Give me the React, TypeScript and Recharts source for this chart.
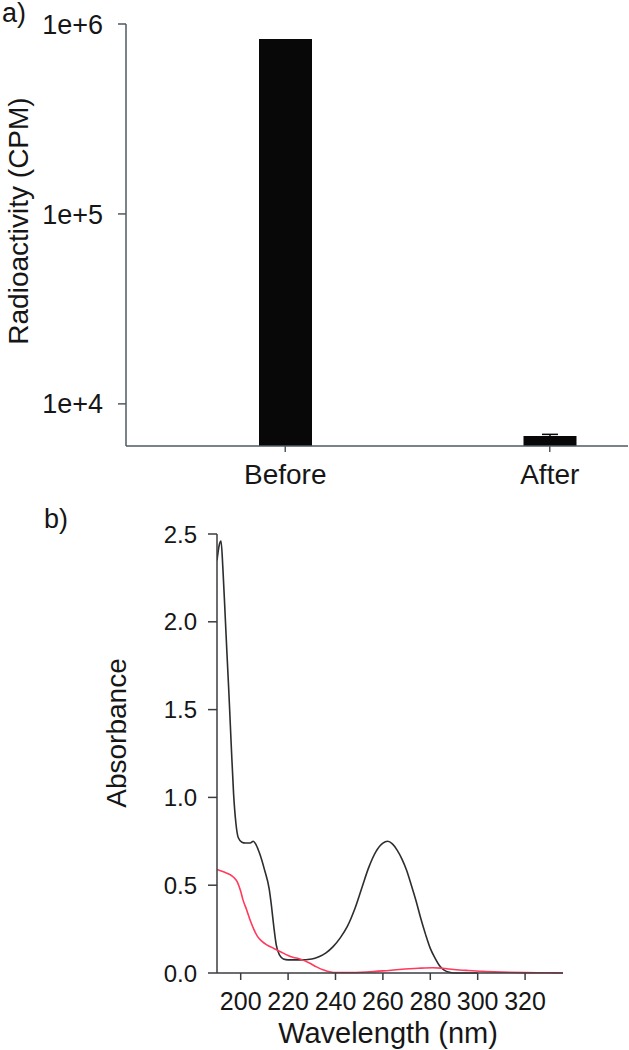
import React from 'react';
import {
  BarChart, Bar, XAxis, YAxis, ErrorBar, LineChart, Line, Label,
} from 'recharts';

const categories = ['Before', 'After'];
const radioactivity = [834000, 6780];
const radioactivityErr = [0, 130];
const logTicks = [10000, 100000, 1000000];
const logTickLabels = ['1e+4', '1e+5', '1e+6'];

const blackNm = [190, 191, 191.7, 192.5, 193.5, 194.2, 195, 196, 197, 198, 199, 200.5, 202, 204, 205.3, 206.5, 208, 210, 212, 213, 214, 215, 216.5, 218, 220, 225, 230, 233, 236, 239, 242, 245, 248, 251, 254, 257, 260, 262, 264, 266, 268, 270, 272, 274, 276, 278, 280, 282, 284, 286, 288, 290, 300];
const blackAbs = [2.35, 2.44, 2.46, 2.3, 2.02, 1.82, 1.6, 1.3, 1.02, 0.85, 0.77, 0.745, 0.74, 0.74, 0.75, 0.73, 0.68, 0.59, 0.48, 0.38, 0.26, 0.16, 0.1, 0.08, 0.075, 0.075, 0.08, 0.093, 0.115, 0.15, 0.2, 0.265, 0.36, 0.48, 0.6, 0.69, 0.74, 0.75, 0.735, 0.7, 0.65, 0.585, 0.5, 0.41, 0.31, 0.22, 0.14, 0.085, 0.04, 0.015, 0.004, 0, 0];

const redNm = [190, 193, 195.5, 197, 198.5, 200, 201, 202.5, 204, 205.5, 207, 209, 211, 214, 217, 220, 222, 225, 229, 232, 235, 238, 240, 245, 253, 260, 267, 275, 281, 285, 290, 296, 302, 310, 320, 330, 336];
const redAbs = [0.59, 0.575, 0.56, 0.545, 0.52, 0.465, 0.415, 0.36, 0.3, 0.25, 0.21, 0.18, 0.16, 0.14, 0.12, 0.1, 0.09, 0.08, 0.057, 0.035, 0.017, 0.006, 0.003, 0.003, 0.006, 0.012, 0.02, 0.027, 0.03, 0.027, 0.02, 0.014, 0.009, 0.005, 0.002, 0.001, 0];

const absTicks = [0, 0.5, 1, 1.5, 2, 2.5];
const nmTicks = [200, 220, 240, 260, 280, 300, 320];

const barData = categories.map((c, i) => ({ name: c, cpm: radioactivity[i], err: radioactivityErr[i] }));
const blackData = blackNm.map((x, i) => ({ nm: x, abs: blackAbs[i] }));
const redData = redNm.map((x, i) => ({ nm: x, abs: redAbs[i] }));

const FONT = '"Liberation Sans", Arial, Helvetica, sans-serif';
const TEXT = '#161616';

export default function App() {
  return (
    <div style={{ position: 'absolute', left: 0, top: 0, width: 629, height: 1050, background: '#fff', fontFamily: FONT }}>
      <div style={{ position: 'absolute', left: 2, top: 0, fontSize: 27, lineHeight: 1, color: TEXT }}>a)</div>
      <div style={{ position: 'absolute', left: 44, top: 506, fontSize: 27, lineHeight: 1, color: TEXT }}>b)</div>

      <div style={{ position: 'absolute', left: 0, top: 0 }}>
        <BarChart width={629} height={500} data={barData} margin={{ top: 24, right: 1, left: 0, bottom: 0 }}>
          <XAxis
            dataKey="name"
            height={54}
            padding={{ left: 27, right: -54 }}
            tickSize={6}
            tickMargin={12}
            stroke="#4f5a62"
            strokeWidth={1.5}
            tick={{ fontSize: 28, fill: TEXT, fontFamily: FONT }}
          />
          <YAxis
            scale="log"
            domain={[6000, 1000000]}
            allowDataOverflow
            ticks={logTicks}
            tickFormatter={(v: number) => logTickLabels[logTicks.indexOf(v)] ?? ''}
            width={126}
            tickSize={8}
            tickMargin={15}
            stroke="#4f5a62"
            strokeWidth={1.5}
            tick={{ fontSize: 27, fill: TEXT, fontFamily: FONT }}
          >
            <Label
              content={() => (
                <text x={18} y={221} transform="rotate(-90 18 221)" textAnchor="middle" dominantBaseline="central"
                  style={{ fontSize: 28, fill: TEXT, fontFamily: FONT }}>
                  Radioactivity (CPM)
                </text>
              )}
            />
          </YAxis>
          <Bar dataKey="cpm" fill="#080808" barSize={53} isAnimationActive={false}>
            <ErrorBar dataKey="err" width={8} stroke="#080808" strokeWidth={1.5} />
          </Bar>
        </BarChart>
      </div>

      <div style={{ position: 'absolute', left: 0, top: 500 }}>
        <LineChart width={629} height={550} margin={{ top: 34, right: 66, left: 0, bottom: 0 }}>
          <XAxis
            type="number"
            dataKey="nm"
            domain={[190, 336]}
            allowDataOverflow
            ticks={nmTicks}
            height={77}
            tickSize={7}
            tickMargin={12}
            stroke="#3a3d40"
            strokeWidth={1.5}
            tick={{ fontSize: 25, fill: TEXT, fontFamily: FONT }}
          >
            <Label
              content={() => (
                <text x={388} y={543} textAnchor="middle" style={{ fontSize: 29, fill: TEXT, fontFamily: FONT }}>
                  Wavelength (nm)
                </text>
              )}
            />
          </XAxis>
          <YAxis
            type="number"
            domain={[0, 2.5]}
            ticks={absTicks}
            tickFormatter={(v: number) => v.toFixed(1)}
            width={217}
            tickSize={9}
            tickMargin={11}
            stroke="#3a3d40"
            strokeWidth={1.5}
            tick={{ fontSize: 24, fill: TEXT, fontFamily: FONT }}
          >
            <Label
              content={() => (
                <text x={116} y={233} transform="rotate(-90 116 233)" textAnchor="middle" dominantBaseline="central"
                  style={{ fontSize: 28, fill: TEXT, fontFamily: FONT }}>
                  Absorbance
                </text>
              )}
            />
          </YAxis>
          <Line data={blackData} dataKey="abs" type="monotone" stroke="#2b2d2f" strokeWidth={1.6} dot={false} isAnimationActive={false} />
          <Line data={redData} dataKey="abs" type="monotone" stroke="#ff3a5c" strokeWidth={1.6} dot={false} isAnimationActive={false} />
        </LineChart>
      </div>
    </div>
  );
}
